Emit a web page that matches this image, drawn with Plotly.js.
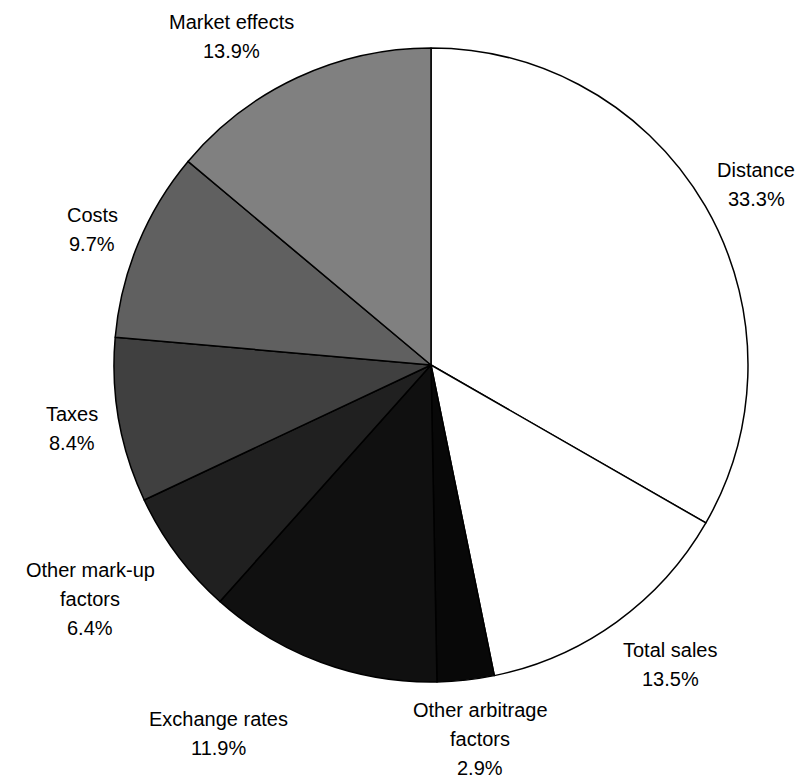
<!DOCTYPE html>
<html>
<head>
<meta charset="utf-8">
<script src="https://cdn.plot.ly/plotly-3.0.1.min.js"></script>
<style>html,body{margin:0;padding:0;background:#fff;}#chart{width:812px;height:778px;}</style>
</head>
<body>
<div id="chart"></div>
<script>
// Data
const categories = ["Distance", "Total sales", "Other arbitrage factors", "Exchange rates",
  "Other mark-up factors", "Taxes", "Costs", "Market effects"];
const shares = [33.3, 13.5, 2.9, 11.9, 6.4, 8.4, 9.7, 13.9];
const sliceColors = ["#ffffff", "#ffffff", "#080808", "#101010", "#202020", "#404040", "#606060", "#808080"];
// How each category label wraps onto lines
const labelLines = [["Distance"], ["Total sales"], ["Other arbitrage", "factors"], ["Exchange rates"],
  ["Other mark-up", "factors"], ["Taxes"], ["Costs"], ["Market effects"]];

// Label placement (pixel centre of first line), layout only
const W = 812, H = 778;
const labelPos = [[756, 170], [670, 650], [480, 710], [218, 719], [90, 570], [72, 414], [92, 215], [231, 22]];
const lineStep = 29;

const annotations = [];
categories.forEach((c, i) => {
  const lines = labelLines[i].concat([shares[i].toFixed(1) + "%"]);
  lines.forEach((t, k) => {
    annotations.push({
      text: t, showarrow: false, xref: "paper", yref: "paper",
      x: labelPos[i][0] / W, y: 1 - (labelPos[i][1] + k * lineStep) / H,
      xanchor: "center", yanchor: "middle",
      font: {family: "Liberation Sans, Arial, sans-serif", size: 20, color: "#000"}
    });
  });
});

const cx = 431, cy = 365, r = 317;
const trace = {
  type: "pie",
  labels: categories,
  values: shares,
  sort: false,
  direction: "clockwise",
  rotation: 0,
  textinfo: "none",
  hoverinfo: "label+percent",
  marker: {colors: sliceColors, line: {color: "#000", width: 1.5}},
  domain: {x: [(cx - r) / W, (cx + r) / W], y: [(H - cy - r) / H, (H - cy + r) / H]}
};

Plotly.newPlot("chart", [trace], {
  width: W, height: H,
  margin: {l: 0, r: 0, t: 0, b: 0},
  showlegend: false,
  paper_bgcolor: "#fff",
  annotations: annotations
}, {displayModeBar: false, staticPlot: true});
</script>
</body>
</html>
